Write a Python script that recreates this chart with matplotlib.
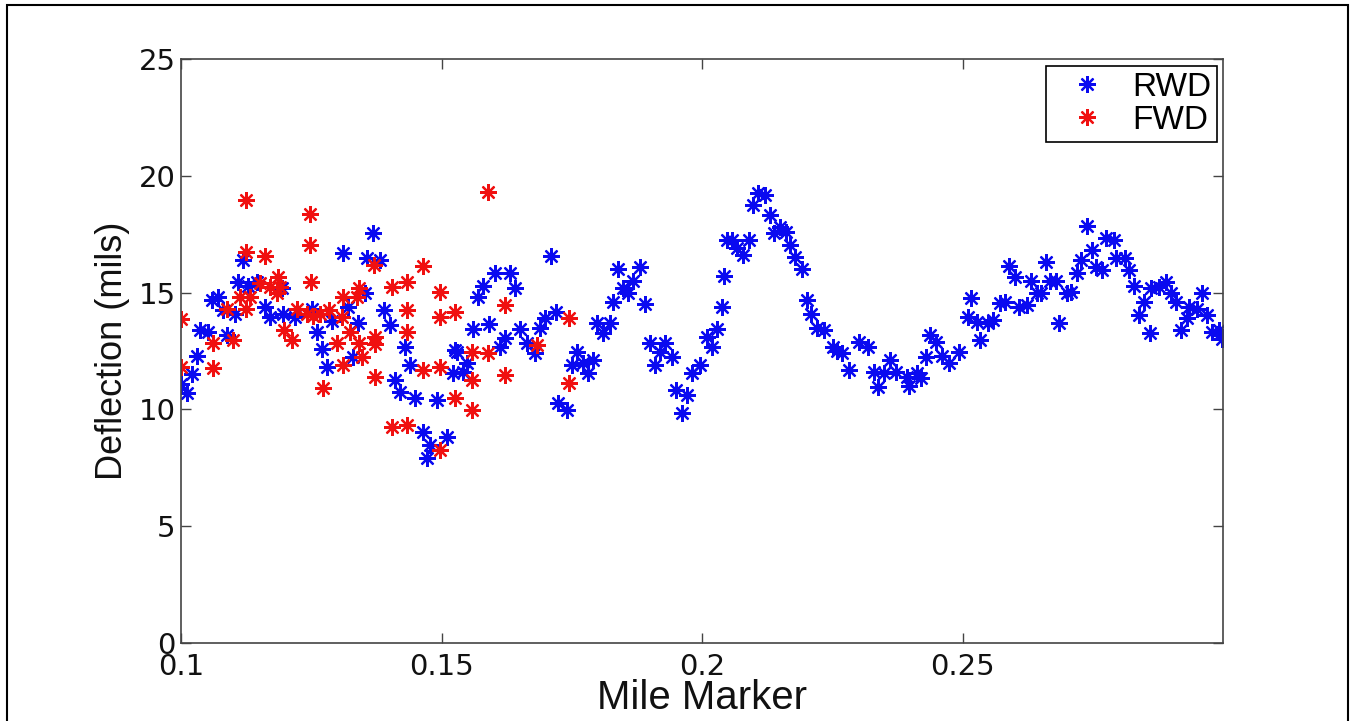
import matplotlib.pyplot as plt
from matplotlib.patches import Rectangle

plt.rcParams['font.family'] = ['Liberation Sans', 'DejaVu Sans']

# RWD measurements (mile marker, deflection in mils)
rwd_mile = [0.1000, 0.1012, 0.1021, 0.1031, 0.1036, 0.1052, 0.1059, 0.1071, 0.1088, 0.1081,
            0.1104, 0.1109, 0.1119, 0.1129, 0.1146, 0.1161, 0.1171, 0.1196, 0.1219, 0.1194,
            0.1251, 0.1261, 0.1270, 0.1280, 0.1290, 0.1311, 0.1320, 0.1339, 0.1330, 0.1353,
            0.1368, 0.1357, 0.1382, 0.1389, 0.1401, 0.1430, 0.1439, 0.1410, 0.1420, 0.1449,
            0.1491, 0.1464, 0.1478, 0.1472, 0.1510, 0.1526, 0.1522, 0.1710, 0.1602, 0.1631,
            0.1579, 0.1570, 0.1641, 0.1838, 0.1880, 0.1867, 0.1848, 0.1857, 0.1829, 0.1890,
            0.1719, 0.1698, 0.1689, 0.1650, 0.1591, 0.1560, 0.1621, 0.1612, 0.1664, 0.1679,
            0.1529, 0.1549, 0.1541, 0.1760, 0.1790, 0.1750, 0.1771, 0.1781, 0.1798, 0.1823,
            0.1809, 0.1900, 0.1928, 0.1919, 0.1942, 0.1909, 0.1996, 0.1980, 0.1951, 0.1971,
            0.1961, 0.2047, 0.2043, 0.2038, 0.2028, 0.2009, 0.2019, 0.1723, 0.1740, 0.2107,
            0.2120, 0.2097, 0.2130, 0.2149, 0.2139, 0.2162, 0.2168, 0.2178, 0.2191, 0.2057,
            0.2091, 0.2068, 0.2078, 0.2201, 0.2210, 0.2220, 0.2235, 0.2251, 0.2268, 0.2260,
            0.2283, 0.2302, 0.2318, 0.2331, 0.2337, 0.2360, 0.2350, 0.2373, 0.2393, 0.2412,
            0.2398, 0.2421, 0.2437, 0.2450, 0.2429, 0.2460, 0.2475, 0.2494, 0.2517, 0.2510,
            0.2527, 0.2533, 0.2548, 0.2558, 0.2738, 0.2776, 0.2791, 0.2749, 0.2728, 0.2719,
            0.2795, 0.2811, 0.2757, 0.2768, 0.2820, 0.2830, 0.2862, 0.2878, 0.2891, 0.2901,
            0.2849, 0.2910, 0.2960, 0.2839, 0.2935, 0.2951, 0.2930, 0.2970, 0.2859, 0.2920,
            0.2978, 0.2993, 0.2999, 0.2590, 0.2600, 0.2661, 0.2632, 0.2667, 0.2680, 0.2642,
            0.2651, 0.2700, 0.2709, 0.2609, 0.2623, 0.2571, 0.2581, 0.2686]
rwd_defl = [11.1, 10.7, 11.5, 12.3, 13.4, 13.3, 14.7, 14.8, 13.2, 14.25,
            14.1, 15.45, 16.4, 15.3, 15.45, 14.4, 13.96, 14.1, 13.96, 15.2,
            14.3, 13.3, 12.6, 11.8, 13.8, 16.7, 14.4, 13.7, 12.24, 15.0,
            17.55, 16.5, 16.4, 14.25, 13.6, 12.67, 11.9, 11.26, 10.74, 10.5,
            10.4, 9.03, 8.48, 7.9, 8.82, 12.54, 11.56, 16.57, 15.84, 15.84,
            15.3, 14.8, 15.2, 16.0, 16.1, 15.5, 15.2, 15.0, 14.6, 14.5,
            14.17, 13.9, 13.5, 13.44, 13.65, 13.44, 13.06, 12.67, 12.84, 12.4,
            12.46, 12.0, 11.6, 12.46, 12.1, 11.9, 12.0, 11.56, 13.7, 13.7,
            13.27, 12.84, 12.84, 12.46, 12.24, 11.9, 11.9, 11.56, 10.83, 10.6,
            9.85, 17.25, 15.7, 14.4, 13.44, 13.1, 12.67, 10.27, 9.97, 19.26,
            19.18, 18.75, 18.32, 17.8, 17.55, 17.6, 17.04, 16.52, 16.0, 17.25,
            17.25, 16.9, 16.6, 14.68, 14.1, 13.5, 13.4, 12.67, 12.4, 12.5,
            11.7, 12.9, 12.67, 11.6, 10.96, 12.1, 11.56, 11.6, 11.4, 11.56,
            11.0, 11.34, 13.2, 12.9, 12.24, 12.3, 12.0, 12.45, 14.77, 13.96,
            13.74, 12.97, 13.7, 13.83, 17.85, 17.34, 17.25, 16.82, 16.4, 15.84,
            16.5, 16.5, 16.1, 15.97, 15.97, 15.3, 15.2, 15.24, 15.45, 15.0,
            14.6, 14.6, 15.0, 14.04, 14.4, 14.3, 13.9, 14.04, 13.27, 13.4,
            13.3, 13.4, 13.0, 16.14, 15.67, 16.3, 15.5, 15.5, 15.5, 15.0,
            15.0, 15.0, 15.03, 14.4, 14.47, 14.55, 14.6, 13.7]

# FWD measurements
fwd_mile = [0.1125, 0.1247, 0.1247, 0.1125, 0.1161, 0.1464, 0.1370, 0.1249, 0.1433, 0.1405,
            0.1497, 0.1186, 0.1152, 0.1184, 0.1190, 0.1171, 0.1341, 0.1338, 0.1311, 0.1000,
            0.1000, 0.1061, 0.1061, 0.1100, 0.1088, 0.1113, 0.1132, 0.1125, 0.1198, 0.1213,
            0.1222, 0.1242, 0.1253, 0.1267, 0.1284, 0.1309, 0.1299, 0.1324, 0.1341, 0.1372,
            0.1372, 0.1311, 0.1347, 0.1272, 0.1372, 0.1405, 0.1433, 0.1464, 0.1497, 0.1497,
            0.1526, 0.1526, 0.1497, 0.1589, 0.1621, 0.1744, 0.1558, 0.1589, 0.1683, 0.1558,
            0.1621, 0.1558, 0.1744, 0.1433, 0.1433]
fwd_defl = [18.96, 18.37, 17.04, 16.74, 16.57, 16.14, 16.18, 15.45, 15.45, 15.24,
            15.03, 15.67, 15.41, 15.0, 15.24, 15.24, 15.2, 14.8, 14.8, 13.87,
            11.81, 12.84, 11.77, 12.97, 14.3, 14.8, 14.8, 14.3, 13.4, 12.97,
            14.3, 14.1, 14.0, 14.1, 14.25, 13.96, 12.84, 13.3, 12.84, 13.1,
            12.8, 11.9, 12.24, 10.9, 11.4, 9.25, 9.33, 11.7, 11.8, 13.96,
            14.17, 10.5, 8.26, 19.3, 14.47, 13.9, 12.46, 12.41, 12.76, 11.26,
            11.47, 9.97, 11.13, 14.25, 13.3]

asterisk = (8, 2, 0)

fig = plt.figure(figsize=(13.52, 7.21), dpi=100)
ax = fig.add_axes([0.1339, 0.1082, 0.7707, 0.81])

ax.plot(rwd_mile, rwd_defl, linestyle='none', marker=asterisk, color='#0a0af0',
        markersize=12, markeredgewidth=1.6, label='RWD')
ax.plot(fwd_mile, fwd_defl, linestyle='none', marker=asterisk, color='#f01010',
        markersize=12, markeredgewidth=1.6, label='FWD')

ax.set_xlim(0.1, 0.3)
ax.set_ylim(0, 25)
ax.set_xticks([0.1, 0.15, 0.2, 0.25])
ax.set_xticklabels(['0.1', '0.15', '0.2', '0.25'])
ax.set_yticks([0, 5, 10, 15, 20, 25])
ax.tick_params(direction='in', length=7.5, width=1, top=True, right=True,
               colors='#444444', labelcolor='#111111')
ax.tick_params(axis='x', pad=7)
ax.tick_params(axis='y', pad=4)
for lab in ax.get_xticklabels() + ax.get_yticklabels():
    lab.set_family(['DejaVu Sans'])
    lab.set_fontsize(21)
for s in ax.spines.values():
    s.set_color('#444444')
    s.set_linewidth(1.2)

ax.set_xlabel('Mile Marker', fontsize=29, labelpad=-1, color='#111111')
ax.set_ylabel('Deflection (mils)', fontsize=26, labelpad=6, color='#111111')

leg = ax.legend(loc='upper right', bbox_to_anchor=(0.9942, 0.988), borderaxespad=0,
                prop={'family': 'Liberation Sans', 'size': 24}, fancybox=False,
                edgecolor='black', framealpha=1, handlelength=2.1, handletextpad=0.3,
                borderpad=0.18, labelspacing=0.05)
leg.get_frame().set_linewidth(1.2)

fig.patches.append(Rectangle((0.005, -0.01), 0.992, 1.003, transform=fig.transFigure,
                             fill=False, edgecolor='black', linewidth=1.5))

fig.savefig('out.png', dpi=100)
